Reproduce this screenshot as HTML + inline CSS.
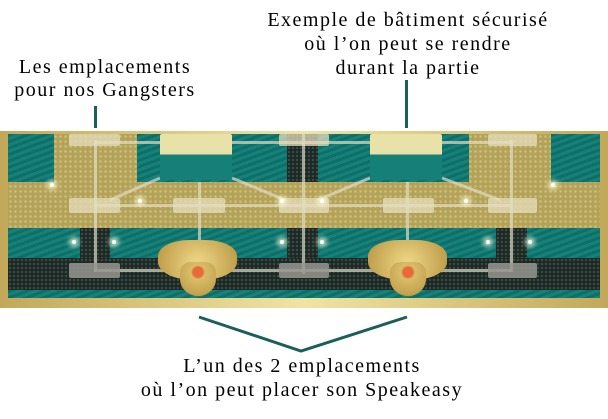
<!DOCTYPE html>
<html><head><meta charset="utf-8"><style>
body{margin:0;width:608px;height:419px;background:#fff;position:relative;overflow:hidden;font-family:"Liberation Serif",serif;}
.a{position:absolute}
.t{position:absolute;font-size:20px;letter-spacing:1.5px;line-height:23px;text-align:center;color:#000;white-space:nowrap}
.teal{background:repeating-linear-gradient(160deg,#0f6e68 0 3px,#15827a 3px 6px)}
.dark{background:radial-gradient(#3b4a44 1px,#1b2824 1.5px) 0 0/4px 4px}
.pad{background:rgba(230,222,190,.75);border-radius:2px}
.gpad{background:rgba(150,150,145,.85);border-radius:2px}
.ln{background:rgba(225,220,200,.7)}
.dot{position:absolute;width:4px;height:4px;border-radius:50%;background:#fff;box-shadow:0 0 5px 3px rgba(255,255,220,.7)}
</style></head><body>
<div class="t" style="left:-45px;top:56px;width:300px">Les emplacements<br>pour nos Gangsters</div>
<div class="t" style="left:258px;top:8px;width:300px;line-height:24px">Exemple de bâtiment sécurisé<br>où l’on peut se rendre<br>durant la partie</div>
<div class="t" style="left:102px;top:354px;width:400px;line-height:24px">L’un des 2 emplacements<br>où l’on peut placer son Speakeasy</div>
<div class="a" style="left:94px;top:106px;width:3px;height:22px;background:#1a5f5a"></div>
<div class="a" style="left:405px;top:80px;width:3px;height:48px;background:#1a5f5a"></div>
<svg class="a" style="left:0;top:0" width="608" height="419"><polyline points="199,317 301,351 407,317" fill="none" stroke="#1a5f5a" stroke-width="3"/></svg>

<div class="a" style="left:0;top:131px;width:608px;height:177px;background:linear-gradient(90deg,#c2a858,#f0e4a4 50%,#c2a858)"></div>
<div class="a" style="left:8px;top:134px;width:592px;height:164px;background:radial-gradient(#d0bf78 1px,#b3a259 1.5px) 0 0/5px 5px"></div>
<div class="a teal" style="left:8px;top:134px;width:46px;height:48px"></div>
<div class="a teal" style="left:137px;top:134px;width:150px;height:48px"></div>
<div class="a dark" style="left:287px;top:134px;width:31px;height:48px"></div>
<div class="a teal" style="left:318px;top:134px;width:151px;height:48px"></div>
<div class="a teal" style="left:551px;top:134px;width:49px;height:48px"></div>
<div class="a teal" style="left:8px;top:228px;width:592px;height:30px"></div>
<div class="a dark" style="left:80px;top:228px;width:30px;height:70px"></div>
<div class="a dark" style="left:287px;top:228px;width:31px;height:70px"></div>
<div class="a dark" style="left:496px;top:228px;width:31px;height:70px"></div>
<div class="a dark" style="left:8px;top:258px;width:592px;height:32px"></div>
<div class="a teal" style="left:8px;top:290px;width:592px;height:8px"></div>

<div class="a ln" style="left:94px;top:140px;width:3px;height:132px"></div>
<div class="a ln" style="left:198px;top:182px;width:3px;height:60px"></div>
<div class="a ln" style="left:302px;top:134px;width:3px;height:140px"></div>
<div class="a ln" style="left:406px;top:182px;width:3px;height:60px"></div>
<div class="a ln" style="left:510px;top:140px;width:3px;height:132px"></div>
<div class="a ln" style="left:94px;top:204px;width:418px;height:3px"></div>
<div class="a ln" style="left:94px;top:269px;width:418px;height:3px"></div>
<div class="a ln" style="left:94px;top:141px;width:418px;height:3px"></div>
<svg class="a" style="left:0;top:0" width="608" height="308"><g stroke="rgba(225,220,200,.7)" stroke-width="3"><line x1="110" y1="200" x2="160" y2="178"/><line x1="232" y1="178" x2="285" y2="200"/><line x1="318" y1="200" x2="370" y2="178"/><line x1="442" y1="178" x2="500" y2="200"/></g></svg>

<div class="a pad" style="left:69px;top:134px;width:51px;height:12px"></div>
<div class="a pad" style="left:279px;top:134px;width:50px;height:12px"></div>
<div class="a pad" style="left:488px;top:134px;width:49px;height:12px"></div>
<div class="a pad" style="left:69px;top:198px;width:51px;height:15px"></div>
<div class="a pad" style="left:173px;top:198px;width:52px;height:15px"></div>
<div class="a pad" style="left:279px;top:198px;width:50px;height:15px"></div>
<div class="a pad" style="left:383px;top:198px;width:51px;height:15px"></div>
<div class="a pad" style="left:488px;top:198px;width:49px;height:15px"></div>
<div class="a gpad" style="left:69px;top:263px;width:51px;height:15px"></div>
<div class="a gpad" style="left:279px;top:263px;width:50px;height:15px"></div>
<div class="a gpad" style="left:488px;top:263px;width:49px;height:15px"></div>

<div class="a" style="left:160px;top:134px;width:72px;height:46px;background:linear-gradient(#e8e2a8 0 45%,#148078 45%);border-radius:2px"></div>
<div class="a" style="left:370px;top:134px;width:72px;height:46px;background:linear-gradient(#e8e2a8 0 45%,#148078 45%);border-radius:2px"></div>
<div class="a" style="left:158px;top:240px;width:79px;height:40px;border-radius:40% 40% 45% 45%;background:radial-gradient(circle at 50% 60%,#f0d98a,#b8953f)"></div>
<div class="a" style="left:180px;top:262px;width:36px;height:34px;border-radius:30% 30% 50% 50%;background:radial-gradient(circle at 50% 30%,#e86a3a 0 5px,#d9bd6a 7px,#b8953f)"></div>
<div class="a" style="left:368px;top:240px;width:79px;height:40px;border-radius:40% 40% 45% 45%;background:radial-gradient(circle at 50% 60%,#f0d98a,#b8953f)"></div>
<div class="a" style="left:390px;top:262px;width:36px;height:34px;border-radius:30% 30% 50% 50%;background:radial-gradient(circle at 50% 30%,#e86a3a 0 5px,#d9bd6a 7px,#b8953f)"></div>

<div class="dot" style="left:50px;top:183px"></div><div class="dot" style="left:138px;top:199px"></div>
<div class="dot" style="left:280px;top:199px"></div><div class="dot" style="left:320px;top:199px"></div>
<div class="dot" style="left:464px;top:199px"></div><div class="dot" style="left:551px;top:183px"></div>
<div class="dot" style="left:72px;top:240px"></div><div class="dot" style="left:112px;top:240px"></div>
<div class="dot" style="left:280px;top:240px"></div><div class="dot" style="left:320px;top:240px"></div>
<div class="dot" style="left:486px;top:240px"></div><div class="dot" style="left:528px;top:240px"></div>
</body></html>
